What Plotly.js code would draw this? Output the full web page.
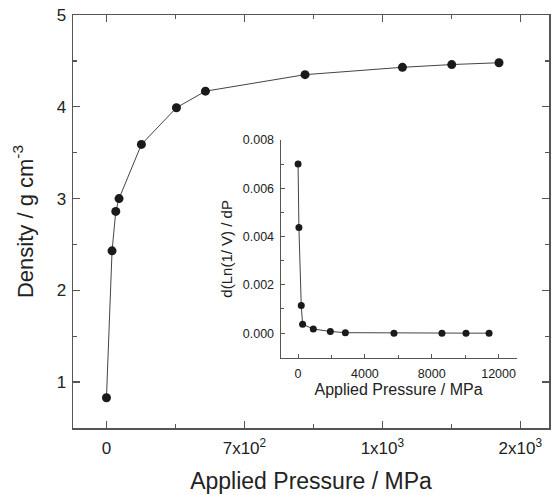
<!DOCTYPE html>
<html>
<head>
<meta charset="utf-8">
<script src="https://cdn.plot.ly/plotly-3.0.1.min.js"></script>
<style>html,body{margin:0;padding:0;background:#fff;}#chart{width:552px;height:495px;}</style>
</head>
<body>
<div id="chart"></div>
<script>
// Main series: applied pressure (MPa) vs density (g cm^-3)
const pressure = [0, 162, 270, 365, 1014, 2029, 2870, 5757, 8580, 10010, 11380];
const density = [0.83, 2.43, 2.86, 3.00, 3.59, 3.99, 4.17, 4.35, 4.43, 4.46, 4.48];
// Inset series: applied pressure (MPa) vs d(Ln(1/V))/dP
const insetPressure = [0, 50, 190, 270, 910, 1930, 2830, 5740, 8610, 10050, 11430];
const insetDeriv = [0.0070, 0.00437, 0.00114, 0.00037, 0.00017, 0.00007, 0.00002, 0.0, 0.0, 0.0, 0.0];
// Tick labels
const mainXTickVals = [0, 4000, 8000, 12000];
const mainXTickText = ["0", "7x10<sup>2</sup>", "1x10<sup>3</sup>", "2x10<sup>3</sup>"];
const mainYTickVals = [1, 2, 3, 4, 5];
const insetXTickVals = [0, 4000, 8000, 12000];
const insetXTickText = ["0", "4000", "8000", "12000"];
const insetYTickVals = [0, 0.002, 0.004, 0.006, 0.008];
const insetYTickText = ["0.000", "0.002", "0.004", "0.006", "0.008"];

const FONT = "Liberation Sans, Arial, sans-serif";
const axisCol = "#555";
const txtCol = "#222";

const traces = [
  {x: pressure, y: density, type: "scatter", mode: "lines+markers",
   line: {color: "#444", width: 1}, marker: {color: "#1a1a1a", size: 9},
   xaxis: "x", yaxis: "y", showlegend: false, hoverinfo: "skip"},
  {x: insetPressure, y: insetDeriv, type: "scatter", mode: "lines+markers",
   line: {color: "#444", width: 1}, marker: {color: "#1a1a1a", size: 7},
   xaxis: "x2", yaxis: "y2", showlegend: false, hoverinfo: "skip"}
];

const layout = {
  width: 552, height: 495,
  margin: {l: 73, r: 3, t: 15, b: 67},
  paper_bgcolor: "#fff", plot_bgcolor: "#fff",
  font: {family: FONT, color: txtCol},
  xaxis: {
    domain: [0, 1], range: [-970, 12830],
    tickmode: "array", tickvals: mainXTickVals, ticktext: mainXTickText,
    ticks: "inside", ticklen: 7, tickwidth: 1.3, tickcolor: axisCol,
    minor: {dtick: 2000, tick0: 0, ticks: "inside", ticklen: 4, tickcolor: axisCol, showgrid: false},
    showline: true, linecolor: axisCol, linewidth: 1.5, mirror: "ticks",
    showgrid: false, zeroline: false, ticklabelstandoff: 4,
    tickfont: {size: 17, family: FONT, color: txtCol},
    title: {text: "Applied Pressure / MPa", font: {size: 23, family: FONT, color: txtCol}, standoff: 16}
  },
  yaxis: {
    domain: [0, 1], range: [0.5, 5],
    tickmode: "array", tickvals: mainYTickVals,
    ticks: "inside", ticklen: 7, tickwidth: 1.3, tickcolor: axisCol,
    minor: {dtick: 0.5, tick0: 0.5, ticks: "inside", ticklen: 4, tickcolor: axisCol, showgrid: false},
    showline: true, linecolor: axisCol, linewidth: 1.5, mirror: "ticks",
    showgrid: false, zeroline: false, ticklabelstandoff: 2,
    tickfont: {size: 17, family: FONT, color: txtCol},
    title: {text: "Density / g cm<sup>-3</sup>", font: {size: 22, family: FONT, color: txtCol}, standoff: 17}
  },
  xaxis2: {
    domain: [0.436, 0.932], anchor: "y2", range: [-1050, 13080],
    tickmode: "array", tickvals: insetXTickVals, ticktext: insetXTickText,
    ticks: "inside", ticklen: 4, tickwidth: 1, tickcolor: axisCol,
    minor: {dtick: 2000, tick0: 0, ticks: "inside", ticklen: 3, tickcolor: axisCol, showgrid: false},
    showline: true, linecolor: axisCol, linewidth: 1, mirror: false,
    showgrid: false, zeroline: false, ticklabelstandoff: 4,
    tickfont: {size: 12.5, family: FONT, color: txtCol},
    title: {text: "Applied Pressure / MPa", font: {size: 16, family: FONT, color: txtCol}, standoff: 4}
  },
  yaxis2: {
    domain: [0.170, 0.6976], anchor: "x2", range: [-0.00102, 0.008],
    tickmode: "array", tickvals: insetYTickVals, ticktext: insetYTickText,
    ticks: "inside", ticklen: 4, tickwidth: 1, tickcolor: axisCol,
    minor: {dtick: 0.001, tick0: 0, ticks: "inside", ticklen: 3, tickcolor: axisCol, showgrid: false},
    showline: true, linecolor: axisCol, linewidth: 1, mirror: false,
    showgrid: false, zeroline: false, ticklabelstandoff: 3,
    tickfont: {size: 12.5, family: FONT, color: txtCol},
    title: {text: "d(Ln(1/ V) / dP", font: {size: 15, family: FONT, color: txtCol}, standoff: 6}
  }
};

Plotly.newPlot("chart", traces, layout, {displayModeBar: false, staticPlot: true});
</script>
</body>
</html>
